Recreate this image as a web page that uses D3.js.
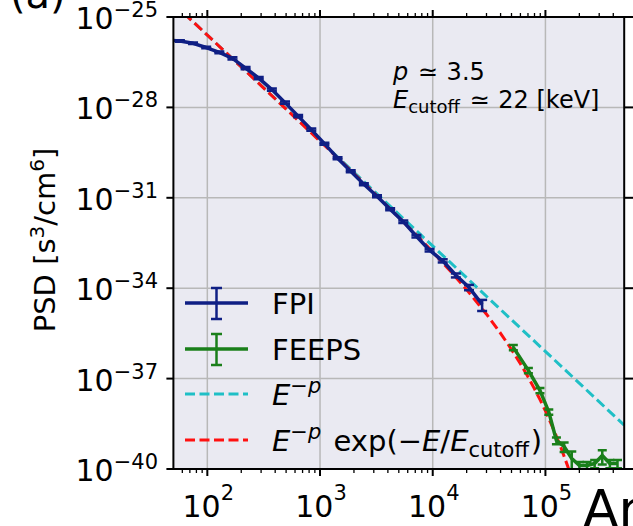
<!DOCTYPE html>
<html>
<head>
<meta charset="utf-8">
<script src="https://cdn.jsdelivr.net/npm/d3@7/dist/d3.min.js"></script>
<style>
body{margin:0;background:#fff;overflow:hidden;}
text{font-family:"DejaVu Sans",sans-serif;fill:#000;}
.it{font-style:italic;}
</style>
</head>
<body>
<div id="chart1"></div>
<script>
// FPI electron PSD (energy in eV)
var fpiEnergy = [43.6, 57.1, 74.7, 97.7, 127.8, 167.1, 218.6, 285.9, 373.9, 489.1, 639.7, 836.7,
  1094, 1431, 1873, 2449, 3203, 4190, 5480, 7167, 9376, 12263, 16039, 20980, 27440];
var fpiPsd = [1.72e-26, 1.60e-26, 1.34e-26, 9.70e-27, 6.71e-27, 4.25e-27, 2.02e-27, 9.40e-28, 3.90e-28,
  1.44e-28, 5.14e-29, 1.83e-29, 6.27e-30, 2.07e-30, 7.66e-31, 2.83e-31, 1.13e-31, 4.18e-32, 1.61e-32,
  5.30e-33, 1.82e-33, 8.13e-34, 2.68e-34, 1.07e-34, 2.92e-35];
var fpiErr = [0.05, 0.05, 0.06, 0.06, 0.07, 0.08, 0.08, 0.08, 0.08, 0.08, 0.08, 0.08, 0.08, 0.08, 0.08,
  0.08, 0.08, 0.08, 0.1, 0.1, 0.1, 0.12, 0.15, 0.2, 0.4];

// FEEPS
var feepsEnergy = [51900, 70600, 89400, 107100, 125200, 146500, 171300, 200200, 234000, 273400, 319400, 373200, 436000];
var feepsPsd = [1.09e-36, 1.87e-37, 4.05e-38, 7.84e-39, 8.85e-40, 5.60e-40, 2.23e-40, 1.31e-40, 1.31e-40,
  1.52e-40, 2.81e-40, 1.52e-40, 1.52e-40];
var feepsErr = [0.2, 0.2, 0.2, 0.2, 0.25, 0.35, 0.7, 0.3, 0.3, 0.3, 0.5, 0.3, 0.3];

// fits
var powerEnergy = [50, 500000];
var powerPsd = [2.84e-25, 2.84e-39];
var cutoffEnergy = [50, 100, 200, 500, 1000, 2000, 3000, 5000, 7000, 10000, 15000, 20000, 30000, 40000,
  50000, 60000, 70000, 80000, 90000, 100000, 120000, 140000, 160000, 180000];
var cutoffPsd = [2.835e-25, 2.500e-26, 2.201e-27, 8.786e-29, 7.59e-30, 6.41e-31, 1.482e-31, 2.264e-32,
  6.368e-33, 1.594e-33, 3.074e-34, 8.945e-35, 1.373e-35, 3.186e-36, 9.26e-37, 3.105e-37, 1.149e-37,
  4.570e-38, 1.921e-38, 8.43e-39, 1.795e-39, 4.214e-40, 1.064e-40, 2.84e-41];

var xTicks = [1e2, 1e3, 1e4, 1e5];
var xTickExp = ["2", "3", "4", "5"];
var yTicks = [1e-25, 1e-28, 1e-31, 1e-34, 1e-37, 1e-40];
var yTickExp = ["\u221225", "\u221228", "\u221231", "\u221234", "\u221237", "\u221240"];

var W = 633, H = 526;
var pL = 173.4, pR = 624.2, pT = 17, pB = 469;
var cNavy = "#0f1f84", cGreen = "#1a7f1a", cCyan = "#1fbfc6", cRed = "#ff1010";

var x = d3.scaleLog().domain([50, 5e5]).range([pL, pR]);
var y = d3.scaleLog().domain([1e-25, 1e-40]).range([pT, pB]);

var svg = d3.select("#chart1").append("svg")
  .attr("width", W)
  .attr("height", H);

svg.append("defs").append("clipPath").attr("id", "clip")
  .append("rect").attr("x", pL).attr("y", pT).attr("width", pR - pL).attr("height", pB - pT);

svg.append("rect")
  .attr("x", pL).attr("y", pT)
  .attr("width", pR - pL).attr("height", pB - pT)
  .attr("fill", "#eaeaf2");

// grid
svg.append("g").selectAll("line").data(xTicks).enter().append("line")
  .attr("x1", d => x(d)).attr("x2", d => x(d))
  .attr("y1", pT).attr("y2", pB)
  .attr("stroke", "#b8b8b8").attr("stroke-width", 1.5);
svg.append("g").selectAll("line").data(yTicks.slice(1, -1)).enter().append("line")
  .attr("x1", pL).attr("x2", pR)
  .attr("y1", d => y(d)).attr("y2", d => y(d))
  .attr("stroke", "#b8b8b8").attr("stroke-width", 1.5);

var plot = svg.append("g").attr("clip-path", "url(#clip)");

const line = d3.line()
  .x(d => x(d[0]))
  .y(d => y(d[1]));

plot.append("path")
  .attr("d", line(d3.zip(powerEnergy, powerPsd)))
  .attr("fill", "none").attr("stroke", cCyan).attr("stroke-width", 3)
  .attr("stroke-dasharray", "10,4.5");
plot.append("path")
  .attr("d", line(d3.zip(cutoffEnergy, cutoffPsd)))
  .attr("fill", "none").attr("stroke", cRed).attr("stroke-width", 3)
  .attr("stroke-dasharray", "10,4.5");

drawSeries(fpiEnergy, fpiPsd, fpiErr, cNavy, 5);
drawSeries(feepsEnergy, feepsPsd, feepsErr, cGreen, 4.5);

function drawSeries(en, val, err, col, cap) {
  var pts = d3.zip(en, val, err);
  plot.append("path")
    .attr("d", line(pts))
    .attr("fill", "none").attr("stroke", col).attr("stroke-width", 3.5)
    .attr("stroke-linejoin", "round");
  var g = plot.append("g").attr("stroke", col).attr("stroke-width", 2.5);
  pts.forEach(function(p) {
    var cx = x(p[0]);
    var yUp = y(p[1] * (1 + p[2]));
    var yLo = p[2] < 1 ? y(p[1] * (1 - p[2])) : pB + 10;
    g.append("line").attr("x1", cx).attr("x2", cx).attr("y1", yUp).attr("y2", yLo);
    g.append("line").attr("x1", cx - cap).attr("x2", cx + cap).attr("y1", yUp).attr("y2", yUp);
    g.append("line").attr("x1", cx - cap).attr("x2", cx + cap).attr("y1", yLo).attr("y2", yLo);
  });
}

// spines
svg.append("rect")
  .attr("x", pL).attr("y", pT)
  .attr("width", pR - pL).attr("height", pB - pT)
  .attr("fill", "none").attr("stroke", "#000").attr("stroke-width", 2);

// x ticks (bottom and top, outward)
var minor = [];
[1, 2, 3, 4, 5].forEach(function(e) {
  for (var m = 2; m <= 9; m++) {
    var v = m * Math.pow(10, e);
    if (v > 50 && v < 5e5) minor.push(v);
  }
});
var tk = svg.append("g").attr("stroke", "#000");
minor.forEach(function(v) {
  tk.append("line").attr("x1", x(v)).attr("x2", x(v)).attr("y1", pB).attr("y2", pB + 4).attr("stroke-width", 1.3);
  tk.append("line").attr("x1", x(v)).attr("x2", x(v)).attr("y1", pT).attr("y2", pT - 4).attr("stroke-width", 1.3);
});
xTicks.forEach(function(v) {
  tk.append("line").attr("x1", x(v)).attr("x2", x(v)).attr("y1", pB).attr("y2", pB + 7).attr("stroke-width", 2);
  tk.append("line").attr("x1", x(v)).attr("x2", x(v)).attr("y1", pT).attr("y2", pT - 7).attr("stroke-width", 2);
});
yTicks.forEach(function(v) {
  tk.append("line").attr("x1", pL).attr("x2", pL - 7).attr("y1", y(v)).attr("y2", y(v)).attr("stroke-width", 2);
  tk.append("line").attr("x1", pR).attr("x2", pR + 9).attr("y1", y(v)).attr("y2", y(v)).attr("stroke-width", 2);
});

// tick labels
xTicks.forEach(function(v, i) {
  var t = svg.append("text").attr("x", x(v) + 1).attr("y", 517)
    .attr("text-anchor", "middle").style("font-size", "30px");
  t.append("tspan").text("10");
  t.append("tspan").attr("dy", -17).style("font-size", "21px").text(xTickExp[i]);
});
yTicks.forEach(function(v, i) {
  var t = svg.append("text").attr("x", 158).attr("y", y(v) + 12)
    .attr("text-anchor", "end").style("font-size", "30px");
  t.append("tspan").text("10");
  t.append("tspan").attr("dy", -12).style("font-size", "21px").text(yTickExp[i]);
});

// y label
var yl = svg.append("text")
  .attr("transform", "translate(55,240)rotate(-90)")
  .attr("text-anchor", "middle").style("font-size", "29px");
yl.append("tspan").text("PSD [s");
yl.append("tspan").attr("dy", -11).style("font-size", "20px").text("3");
yl.append("tspan").attr("dy", 11).text("/cm");
yl.append("tspan").attr("dy", -11).style("font-size", "20px").text("6");
yl.append("tspan").attr("dy", 11).text("]");

// annotation
var a1 = svg.append("text").attr("x", 393).attr("y", 80).style("font-size", "24px");
a1.append("tspan").attr("class", "it").text("p");
a1.append("tspan").attr("dx", 2).text(" \u2243 ");
a1.append("tspan").attr("dx", 1).text("3.5");
var a2 = svg.append("text").attr("x", 393).attr("y", 108).style("font-size", "24px");
a2.append("tspan").attr("class", "it").text("E");
a2.append("tspan").attr("dy", 5).style("font-size", "18px").text("cutoff");
a2.append("tspan").attr("dy", -5).attr("dx", 2).text(" \u2243 ");
a2.append("tspan").attr("dx", 1).text("22 [keV]");

// legend
var lg = svg.append("g");
var legY = [303, 349, 394, 440];
[[cNavy, legY[0]], [cGreen, legY[1]]].forEach(function(r) {
  lg.append("line").attr("x1", 185).attr("x2", 248).attr("y1", r[1]).attr("y2", r[1])
    .attr("stroke", r[0]).attr("stroke-width", 3.5);
  lg.append("line").attr("x1", 216.5).attr("x2", 216.5).attr("y1", r[1] - 15).attr("y2", r[1] + 16)
    .attr("stroke", r[0]).attr("stroke-width", 2.5);
  lg.append("line").attr("x1", 211).attr("x2", 222).attr("y1", r[1] - 15).attr("y2", r[1] - 15)
    .attr("stroke", r[0]).attr("stroke-width", 2.5);
  lg.append("line").attr("x1", 211).attr("x2", 222).attr("y1", r[1] + 16).attr("y2", r[1] + 16)
    .attr("stroke", r[0]).attr("stroke-width", 2.5);
});
[[cCyan, legY[2]], [cRed, legY[3]]].forEach(function(r) {
  lg.append("line").attr("x1", 185).attr("x2", 248).attr("y1", r[1]).attr("y2", r[1])
    .attr("stroke", r[0]).attr("stroke-width", 3).attr("stroke-dasharray", "10,4.5");
});
lg.append("text").attr("x", 272).attr("y", legY[0] + 11).style("font-size", "29px").text("FPI");
lg.append("text").attr("x", 272).attr("y", legY[1] + 11).style("font-size", "29px").text("FEEPS");
var l3 = lg.append("text").attr("x", 272).attr("y", legY[2] + 11).style("font-size", "29px");
l3.append("tspan").attr("class", "it").text("E");
l3.append("tspan").attr("dy", -12).style("font-size", "21px").text("\u2212");
l3.append("tspan").attr("class", "it").style("font-size", "21px").text("p");
var l4 = lg.append("text").attr("x", 272).attr("y", legY[3] + 11).style("font-size", "29px");
l4.append("tspan").attr("class", "it").text("E");
l4.append("tspan").attr("dy", -12).style("font-size", "21px").text("\u2212");
l4.append("tspan").attr("class", "it").style("font-size", "21px").text("p");
l4.append("tspan").attr("dy", 12).attr("dx", 3).text(" exp(\u2212");
l4.append("tspan").attr("class", "it").text("E");
l4.append("tspan").text("/");
l4.append("tspan").attr("class", "it").text("E");
l4.append("tspan").attr("dy", 6).style("font-size", "21px").text("cutoff");
l4.append("tspan").attr("dy", -6).attr("dx", 2).text(")");

// pieces of neighbouring panels
svg.append("text").attr("x", 10).attr("y", 8).style("font-size", "40px").text("(a)");
svg.append("text").attr("x", 583).attr("y", 527).style("font-size", "52px").text("An");
</script>
</body>
</html>
